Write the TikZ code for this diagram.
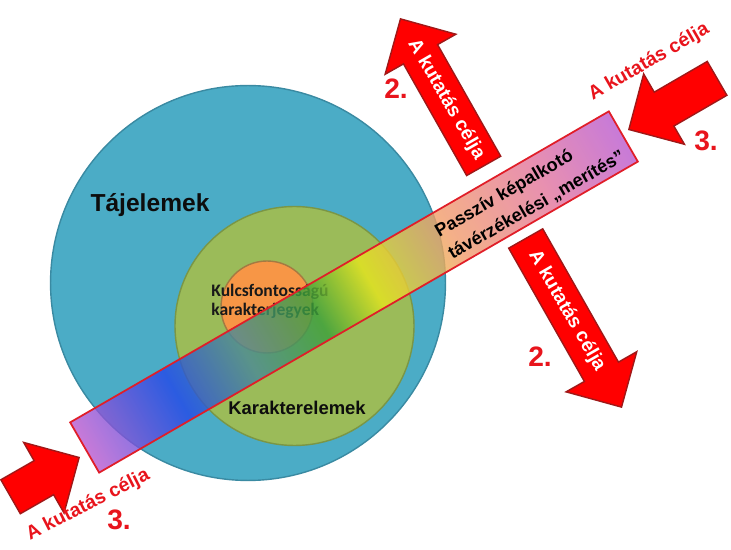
\documentclass[tikz,border=0pt]{standalone}
\usepackage{fontspec}
\setmainfont{Liberation Sans}
\newfontfamily\calfont{Carlito}
\usepackage{tikz}
\usetikzlibrary{calc,shapes.arrows}

\definecolor{tajfill}{HTML}{4BACC6}
\definecolor{tajedge}{HTML}{3A8AA2}
\definecolor{karfill}{HTML}{9BBB59}
\definecolor{karedge}{HTML}{7A9646}
\definecolor{kulfill}{HTML}{F79646}
\definecolor{kuledge}{HTML}{A47A42}
\definecolor{arrowred}{HTML}{FF0000}
\definecolor{arrowedge}{HTML}{A01818}
\definecolor{labelred}{HTML}{E8141C}
\definecolor{bandedge}{HTML}{E01E28}
\definecolor{bviolet}{HTML}{BA59CE}
\definecolor{bblue}{HTML}{2448E8}
\definecolor{bteal}{HTML}{4A8A96}
\definecolor{bgreen}{HTML}{3AA03A}
\definecolor{byellow}{HTML}{E6E61E}
\definecolor{borange}{HTML}{F19C6A}
\definecolor{bpink}{HTML}{E2749C}

% rainbow along the band
\pgfdeclarehorizontalshading{bandgrad}{100bp}{%
  color(0bp)=(bviolet); color(25bp)=(bviolet); color(33.5bp)=(bblue);
  color(40bp)=(bteal); color(46.5bp)=(bgreen); color(51.5bp)=(byellow);
  color(59bp)=(borange); color(67.5bp)=(bpink); color(75bp)=(bviolet);
  color(100bp)=(bviolet)}

\begin{document}
\begin{tikzpicture}[x=0.02cm,y=-0.02cm,
    ring/.style={circle,inner sep=0pt,line width=0.8pt},
    bigarrow/.style={single arrow,fill=arrowred,draw=arrowedge,line width=0.8pt,
                     text height=7.5pt,text depth=2.5pt,inner ysep=5.75pt,inner xsep=0pt,
                     single arrow head extend=12pt,minimum width=1.6cm,anchor=tip},
    arrowtext/.style={font=\bfseries\fontsize{11}{13}\selectfont,text=white},
    redlabel/.style={font=\bfseries\fontsize{11}{13}\selectfont,text=labelred},
    num/.style={font=\bfseries\fontsize{16}{18}\selectfont,text=labelred}
]
\useasboundingbox (0,0) rectangle (731,550);

% circles
\node[ring,fill=tajfill,draw=tajedge,minimum size=7.9cm] (taj) at (248,283) {};
\node[ring,fill=karfill,draw=karedge,minimum size=4.78cm] (kar) at (294.5,326) {};
\node[ring,fill=kulfill,draw=kuledge,minimum size=1.84cm] (kul) at (267,307) {};

\node[anchor=west,align=left,inner sep=0pt,font=\calfont\bfseries\fontsize{10}{11}\selectfont,text=black!90]
  (kultxt) at (211,301.5) {Kulcsfontosságú\\karakterjegyek};

% band
\begin{scope}[transform canvas={shift={(354,292)},rotate=30}]
  \shade[shading=bandgrad,fill opacity=0.8] (-311,-29) rectangle (311,29);
  \draw[bandedge,line width=1pt] (-311,-29) rectangle (311,29);
\end{scope}

\node[font=\bfseries\fontsize{14}{16}\selectfont,text=black!95] (tajtxt) at (150,205) {Tájelemek};
\node[font=\bfseries\fontsize{10.5}{12}\selectfont,text=black!95] (kartxt) at (297,408) {Karakterelemek};

\node[rotate=30,align=left,font=\bfseries\fontsize{10.3}{15}\selectfont] (banding)
  at (530,194) {Passzív képalkotó\\távérzékelési „merítés”};

% arrows
\node[bigarrow,rotate=119.5,minimum height=3.38cm] (up2) at (400,18) {};
\node[bigarrow,rotate=-60.4,minimum height=3.88cm] (dn2) at (622,408) {};
\node[bigarrow,rotate=210.1,minimum height=2.04cm] (rt3) at (628,130) {};
\node[bigarrow,rotate=29.8,minimum height=1.58cm] (lt3) at (80,457) {};

\node[arrowtext,rotate=-60] (celup) at ($(up2.tip)!0.55!(up2.tail)$) {A kutatás célja};
\node[arrowtext,rotate=-60] (celdn) at ($(dn2.tail)!0.43!(dn2.tip)$) {A kutatás célja};

\node[redlabel,rotate=30] (celrt) at (649,62) {A kutatás célja};
\node[redlabel,rotate=27] (cellt) at (88,505) {A kutatás célja};

\node[num] (n2up) at (396,89) {2.};
\node[num] (n2dn) at (540,357) {2.};
\node[num] (n3rt) at (706,141) {3.};
\node[num] (n3lt) at (119,520) {3.};
\end{tikzpicture}
\end{document}
